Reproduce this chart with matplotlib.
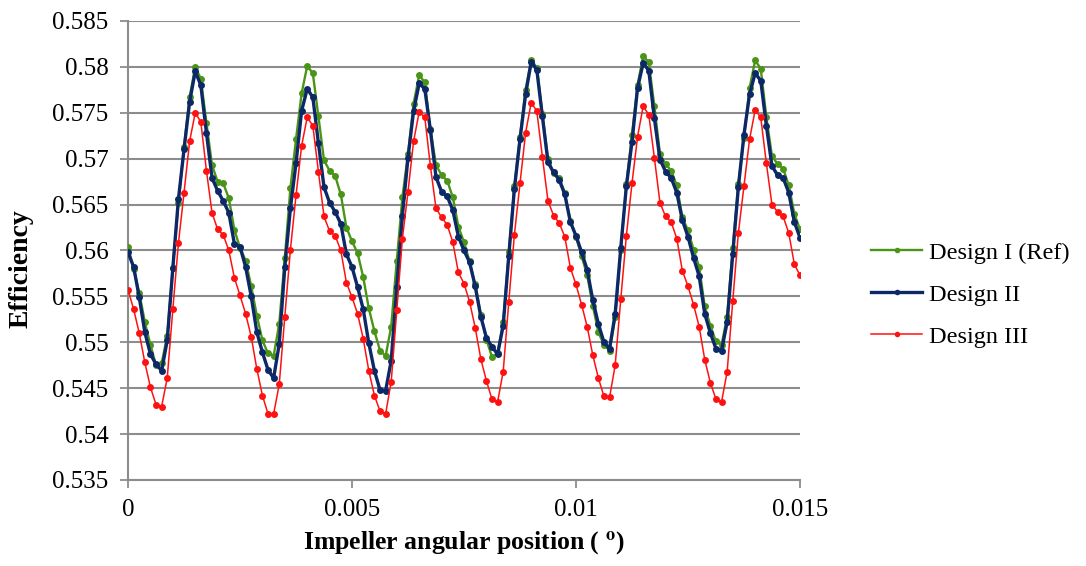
import numpy as np
import matplotlib
matplotlib.use("Agg")
import matplotlib.pyplot as plt

# Impeller angular position samples (step 0.000125 over 0 .. 0.015)
position = np.linspace(0.0, 0.015, 121)

design_1 = [
    0.5604, 0.5580, 0.5554, 0.5522, 0.5497, 0.5475, 0.5477, 0.5507, 0.5581, 0.5652,
    0.5713, 0.5767, 0.5800, 0.5787, 0.5739, 0.5693, 0.5675, 0.5673, 0.5657, 0.5622,
    0.5603, 0.5589, 0.5561, 0.5529, 0.5502, 0.5488, 0.5485, 0.5520, 0.5592, 0.5668,
    0.5721, 0.5771, 0.5801, 0.5793, 0.5746, 0.5698, 0.5687, 0.5681, 0.5661, 0.5625,
    0.5610, 0.5597, 0.5571, 0.5537, 0.5512, 0.5491, 0.5485, 0.5517, 0.5589, 0.5658,
    0.5705, 0.5760, 0.5791, 0.5783, 0.5732, 0.5693, 0.5682, 0.5676, 0.5658, 0.5626,
    0.5609, 0.5588, 0.5563, 0.5530, 0.5503, 0.5484, 0.5488, 0.5522, 0.5598, 0.5670,
    0.5724, 0.5775, 0.5808, 0.5799, 0.5749, 0.5700, 0.5684, 0.5679, 0.5663, 0.5632,
    0.5615, 0.5594, 0.5573, 0.5540, 0.5511, 0.5497, 0.5491, 0.5527, 0.5600, 0.5672,
    0.5726, 0.5780, 0.5812, 0.5805, 0.5757, 0.5705, 0.5694, 0.5687, 0.5671, 0.5636,
    0.5622, 0.5601, 0.5582, 0.5539, 0.5518, 0.5501, 0.5497, 0.5528, 0.5603, 0.5672,
    0.5723, 0.5777, 0.5807, 0.5798, 0.5745, 0.5703, 0.5694, 0.5689, 0.5671, 0.5640,
    0.5623,
]

design_2 = [
    0.5598, 0.5582, 0.5549, 0.5511, 0.5487, 0.5476, 0.5469, 0.5502, 0.5581, 0.5656,
    0.5710, 0.5762, 0.5795, 0.5780, 0.5728, 0.5679, 0.5665, 0.5654, 0.5641, 0.5607,
    0.5604, 0.5582, 0.5550, 0.5511, 0.5489, 0.5470, 0.5461, 0.5498, 0.5582, 0.5646,
    0.5695, 0.5752, 0.5776, 0.5767, 0.5717, 0.5669, 0.5652, 0.5642, 0.5629, 0.5596,
    0.5582, 0.5560, 0.5536, 0.5499, 0.5469, 0.5448, 0.5447, 0.5480, 0.5560, 0.5638,
    0.5701, 0.5752, 0.5782, 0.5776, 0.5731, 0.5680, 0.5664, 0.5659, 0.5644, 0.5615,
    0.5600, 0.5587, 0.5561, 0.5528, 0.5505, 0.5495, 0.5487, 0.5518, 0.5594, 0.5667,
    0.5721, 0.5770, 0.5805, 0.5797, 0.5746, 0.5696, 0.5685, 0.5677, 0.5661, 0.5631,
    0.5616, 0.5598, 0.5579, 0.5546, 0.5520, 0.5500, 0.5493, 0.5531, 0.5603, 0.5670,
    0.5718, 0.5777, 0.5804, 0.5796, 0.5744, 0.5699, 0.5686, 0.5679, 0.5663, 0.5633,
    0.5615, 0.5592, 0.5572, 0.5531, 0.5510, 0.5493, 0.5491, 0.5522, 0.5596, 0.5669,
    0.5726, 0.5770, 0.5793, 0.5785, 0.5736, 0.5692, 0.5682, 0.5679, 0.5663, 0.5631,
    0.5614,
]

design_3 = [
    0.5557, 0.5536, 0.5510, 0.5478, 0.5451, 0.5432, 0.5430, 0.5461, 0.5536, 0.5608,
    0.5663, 0.5719, 0.5750, 0.5740, 0.5687, 0.5641, 0.5623, 0.5617, 0.5600, 0.5570,
    0.5551, 0.5531, 0.5506, 0.5471, 0.5442, 0.5422, 0.5422, 0.5454, 0.5528, 0.5601,
    0.5660, 0.5714, 0.5745, 0.5736, 0.5686, 0.5637, 0.5621, 0.5616, 0.5600, 0.5565,
    0.5549, 0.5531, 0.5504, 0.5469, 0.5442, 0.5425, 0.5422, 0.5457, 0.5535, 0.5613,
    0.5664, 0.5719, 0.5751, 0.5745, 0.5692, 0.5646, 0.5636, 0.5628, 0.5609, 0.5576,
    0.5564, 0.5544, 0.5516, 0.5482, 0.5458, 0.5438, 0.5435, 0.5468, 0.5544, 0.5617,
    0.5673, 0.5728, 0.5761, 0.5752, 0.5702, 0.5654, 0.5638, 0.5630, 0.5615, 0.5581,
    0.5563, 0.5541, 0.5517, 0.5486, 0.5461, 0.5441, 0.5440, 0.5475, 0.5547, 0.5616,
    0.5673, 0.5724, 0.5757, 0.5748, 0.5701, 0.5652, 0.5637, 0.5631, 0.5613, 0.5578,
    0.5561, 0.5541, 0.5517, 0.5481, 0.5456, 0.5438, 0.5435, 0.5468, 0.5545, 0.5619,
    0.5670, 0.5721, 0.5753, 0.5745, 0.5695, 0.5650, 0.5642, 0.5637, 0.5619, 0.5585,
    0.5573,
]

series_labels = ["Design I (Ref)", "Design II", "Design III"]

y_ticks = [0.535, 0.54, 0.545, 0.55, 0.555, 0.56, 0.565, 0.57, 0.575, 0.58, 0.585]
y_tick_labels = ["0.535", "0.54", "0.545", "0.55", "0.555", "0.56", "0.565",
                 "0.57", "0.575", "0.58", "0.585"]
x_ticks = [0.0, 0.005, 0.01, 0.015]
x_tick_labels = ["0", "0.005", "0.01", "0.015"]

plt.rcParams["font.family"] = ["Liberation Serif", "DejaVu Serif"]
plt.rcParams["mathtext.fontset"] = "stix"

fig = plt.figure(figsize=(10.86, 5.66), dpi=100)
ax = fig.add_axes([0.1179, 0.152, 0.6187, 0.811])

styles = [
    dict(color="#4a9418", lw=1.7, ms=5.0, zorder=3),
    dict(color="#0c2866", lw=2.4, ms=5.0, zorder=4),
    dict(color="#ff1111", lw=1.1, ms=5.0, zorder=5),
]
for vals, lab, st in zip([design_1, design_2, design_3], series_labels, styles):
    ax.plot(position, vals, marker="o", color=st["color"], lw=st["lw"],
            ms=st["ms"], markeredgewidth=0, label=lab, zorder=st["zorder"])

ax.set_xlim(0, 0.015)
ax.set_ylim(0.535, 0.585)
ax.set_yticks(y_ticks)
ax.set_yticklabels(y_tick_labels)
ax.set_xticks(x_ticks)
ax.set_xticklabels(x_tick_labels)

ax.grid(axis="y", color="#8c8c8c", lw=1.5)
ax.set_axisbelow(True)
for side in ["top", "right"]:
    ax.spines[side].set_visible(False)
for side in ["left", "bottom"]:
    ax.spines[side].set_color("#8c8c8c")
    ax.spines[side].set_linewidth(1.5)
ax.tick_params(axis="both", colors="#8c8c8c", labelcolor="black",
               labelsize=18, length=6, width=1.3)
ax.tick_params(axis="x", pad=8)
ax.tick_params(axis="y", pad=8)

ax.set_xlabel(r"Impeller angular position ( $^{\mathbf{o}}$)", fontsize=18.5,
              fontweight="bold", labelpad=6)
ax.set_ylabel("Efficiency", fontsize=20, fontweight="bold")
ax.yaxis.set_label_coords(-0.141, 0.46)

fig.legend(loc="center left", bbox_to_anchor=(0.791, 0.479), frameon=False,
           borderpad=0, fontsize=17.5, handlelength=2.1, handletextpad=0.28,
           labelspacing=0.82, markerscale=0.8)

fig.savefig("out.png", dpi=100)
